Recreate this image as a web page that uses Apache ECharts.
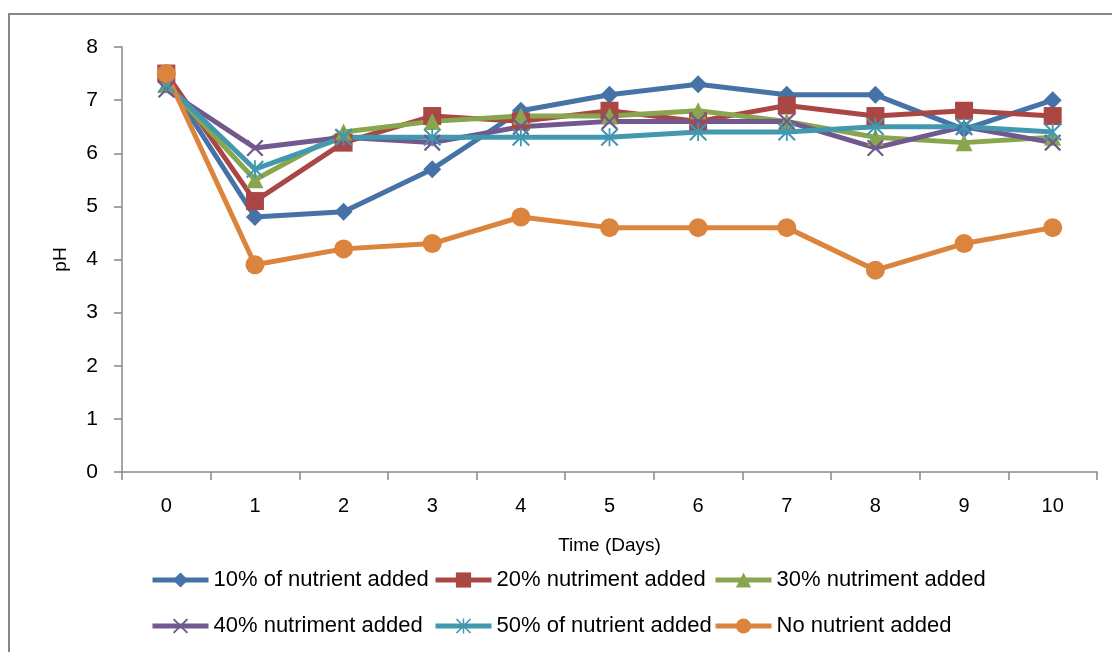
<!DOCTYPE html>
<html>
<head>
<meta charset="utf-8">
<script src="https://cdn.jsdelivr.net/npm/echarts@6/dist/echarts.min.js"></script>
<style>
html,body{margin:0;padding:0;background:#fff;}
#c{width:1112px;height:652px;}
</style>
</head>
<body>
<div id="c"></div>
<script>
const days = ['0','1','2','3','4','5','6','7','8','9','10'];
const seriesNames = ['10% of nutrient added','20% nutriment added','30% nutriment added','40% nutriment added','50% of nutrient added','No nutrient added'];
const s10 = [7.4, 4.8, 4.9, 5.7, 6.8, 7.1, 7.3, 7.1, 7.1, 6.45, 7.0];
const s20 = [7.5, 5.1, 6.2, 6.7, 6.6, 6.8, 6.6, 6.9, 6.7, 6.8, 6.7];
const s30 = [7.3, 5.5, 6.4, 6.6, 6.7, 6.7, 6.8, 6.6, 6.3, 6.2, 6.3];
const s40 = [7.2, 6.1, 6.3, 6.2, 6.5, 6.6, 6.6, 6.6, 6.1, 6.5, 6.2];
const s50 = [7.3, 5.7, 6.3, 6.3, 6.3, 6.3, 6.4, 6.4, 6.5, 6.5, 6.4];
const sNo = [7.5, 3.9, 4.2, 4.3, 4.8, 4.6, 4.6, 4.6, 3.8, 4.3, 4.6];
const yTicks = [0,1,2,3,4,5,6,7,8];

const colors = ['#4572A7','#AA4643','#89A54E','#71588F','#4198AF','#DB843D'];
const xPath = 'path://M0,1.8L1.8,0L20,18.2L18.2,20ZM18.2,0L20,1.8L1.8,20L0,18.2Z';
const starPath = 'path://M0,1.6L1.6,0L20,18.4L18.4,20ZM18.4,0L20,1.6L1.6,20L0,18.4ZM9,0L11,0L11,20L9,20Z';
const symbols = ['diamond','rect','triangle',xPath,starPath,'circle'];
const sizes = [18,18,17,17,18,19];
const dataSets = [s10,s20,s30,s40,s50,sNo];

const font = 'Liberation Sans, Arial, sans-serif';
const legendPos = [[150,569],[433,569],[713,569],[150,615],[433,615],[713,615]];

const chart = echarts.init(document.getElementById('c'));
chart.setOption({
  animation:false,
  color:colors,
  graphic:[{type:'rect',shape:{x:9,y:14,width:1200,height:800},style:{fill:'none',stroke:'#868686',lineWidth:2},z:-10}],
  grid:{left:122,top:47,right:15,bottom:180,containLabel:false},
  legend: seriesNames.map((n,i)=>({
    data:[n], left:legendPos[i][0], top:legendPos[i][1], padding:0,
    itemWidth:56, itemHeight:19, itemGap:0,
    lineStyle:{width:5},
    textStyle:{fontFamily:font,fontSize:22,color:'#000',lineHeight:22}
  })),
  xAxis:{
    type:'category', data:days, boundaryGap:true,
    name:'Time (Days)', nameLocation:'middle', nameGap:64,
    nameTextStyle:{fontFamily:font,fontSize:19,color:'#000'},
    axisLine:{lineStyle:{color:'#868686',width:1.5}},
    axisTick:{show:true,length:8,interval:0,lineStyle:{color:'#868686',width:1.5}},
    axisLabel:{fontFamily:font,fontSize:20,color:'#000',margin:24,interval:0},
    splitLine:{show:false}
  },
  yAxis:{
    type:'value', min:yTicks[0], max:yTicks[yTicks.length-1], interval:1,
    name:'pH', nameLocation:'middle', nameGap:52, nameRotate:90,
    nameTextStyle:{fontFamily:font,fontSize:19,color:'#000'},
    axisLine:{show:true,lineStyle:{color:'#868686',width:1.5}},
    axisTick:{show:true,length:8,lineStyle:{color:'#868686',width:1.5}},
    axisLabel:{fontFamily:font,fontSize:21,color:'#000',margin:24},
    splitLine:{show:false}
  },
  series: dataSets.map((d,i)=>({
    name:seriesNames[i], type:'line', data:d,
    symbol:symbols[i], symbolSize:sizes[i], showAllSymbol:true,
    lineStyle:{width:5,color:colors[i]},
    itemStyle:{color:colors[i],borderColor:colors[i],borderWidth:0},
    emphasis:{disabled:true}
  }))
});
</script>
</body>
</html>
